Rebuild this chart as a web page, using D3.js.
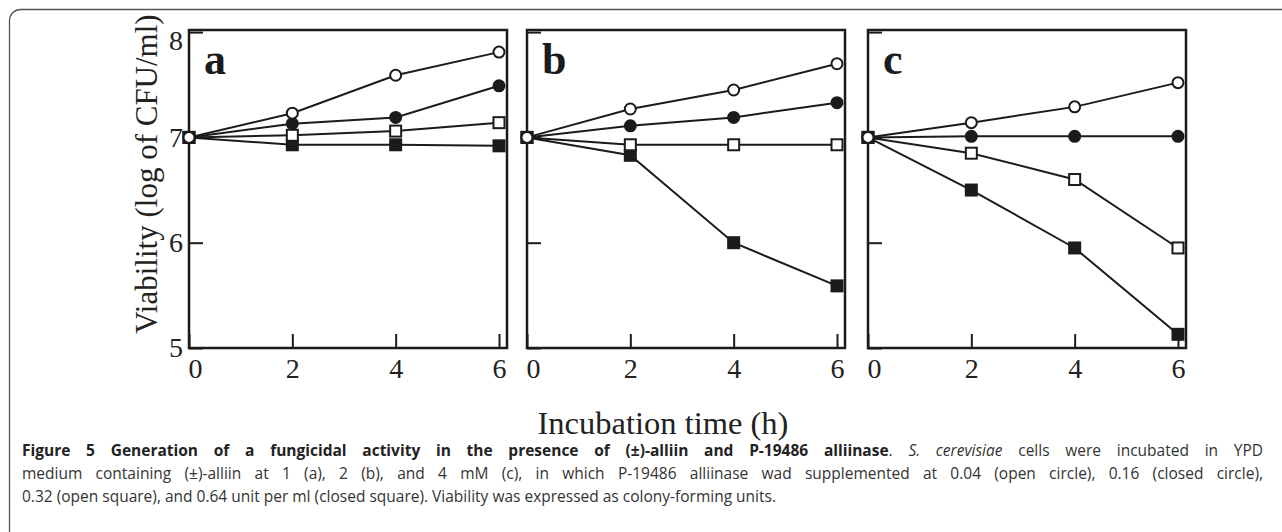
<!DOCTYPE html>
<html>
<head>
<meta charset="utf-8">
<script src="https://cdn.jsdelivr.net/npm/d3@7"></script>
<style>
  html,body{margin:0;padding:0;background:#fff;}
  svg{display:block;}
  .serif{font-family:"Liberation Serif","DejaVu Serif",serif;}
  .cap{font-family:"Open Sans","Noto Sans",sans-serif;font-size:15.5px;fill:#333;}
</style>
</head>
<body>
<svg id="fig" width="1282" height="532"></svg>
<script>
// ---- data ----
const times = [0, 2, 4, 6];
const panels = ['a', 'b', 'c'];
// 0.04 unit/ml, open circle
const openCircle   = [[7, 7.23, 7.59, 7.81], [7, 7.27, 7.45, 7.70], [7, 7.14, 7.29, 7.52]];
// 0.16 unit/ml, closed circle
const closedCircle = [[7, 7.13, 7.19, 7.49], [7, 7.11, 7.19, 7.33], [7, 7.01, 7.01, 7.01]];
// 0.32 unit/ml, open square
const openSquare   = [[7, 7.02, 7.06, 7.14], [7, 6.93, 6.93, 6.93], [7, 6.85, 6.60, 5.95]];
// 0.64 unit/ml, closed square
const closedSquare = [[7, 6.93, 6.93, 6.92], [7, 6.83, 6.00, 5.59], [7, 6.50, 5.95, 5.13]];
const yTicks = [5, 6, 7, 8];
const xTicks = [0, 2, 4, 6];

// ---- layout ----
const svg = d3.select('#fig');
const panelLeft = [189, 527, 868], panelW = 318, plotTop = 30, plotBottom = 348;
const y = d3.scaleLinear().domain([5, 8.02]).range([plotBottom, plotTop]);
const ink = '#1b1b1b';

// outer rounded box (runs off the right/bottom edges)
svg.append('rect').attr('x', 9.5).attr('y', 9.5).attr('width', 1300).attr('height', 560)
  .attr('rx', 11).attr('fill', 'none').attr('stroke', '#555').attr('stroke-width', 1.3);

// series drawn back to front so the open circle sits on top at t=0
const series = [
  {vals: closedSquare, shape: 'square', fill: ink},
  {vals: openSquare,   shape: 'square', fill: '#fff'},
  {vals: closedCircle, shape: 'circle', fill: ink},
  {vals: openCircle,   shape: 'circle', fill: '#fff'}
];

panels.forEach((name, pi) => {
  const x0 = panelLeft[pi];
  const x = d3.scaleLinear().domain([0, 6.155]).range([x0, x0 + panelW]);
  const g = svg.append('g');

  // axes with inward ticks
  const xa = g.append('g').attr('transform', `translate(0,${plotBottom})`)
    .call(d3.axisBottom(x).tickValues(xTicks).tickSize(-14).tickPadding(10).tickFormat(d3.format('d')));
  xa.select('.domain').remove();
  xa.selectAll('line').attr('stroke', ink).attr('stroke-width', 2);
  xa.selectAll('text').attr('class', 'serif').attr('font-size', 28).attr('fill', '#222')
    .attr('dx', d => d === 0 ? 6 : 0);

  const ya = g.append('g').attr('transform', `translate(${x0},0)`)
    .call(d3.axisLeft(y).tickValues(yTicks).tickSize(-14).tickPadding(6)
      .tickFormat(pi === 0 ? d3.format('d') : ''));
  ya.select('.domain').remove();
  ya.selectAll('line').attr('stroke', ink).attr('stroke-width', 2);
  ya.selectAll('text').attr('class', 'serif').attr('font-size', 28).attr('fill', '#222')
    .attr('dy', d => d === 8 ? '0.62em' : '0.32em');

  // frame
  g.append('rect').attr('x', x0).attr('y', plotTop).attr('width', panelW).attr('height', plotBottom - plotTop)
    .attr('fill', 'none').attr('stroke', ink).attr('stroke-width', 2.5);

  // panel letter
  g.append('text').attr('class', 'serif').attr('x', x0 + 15).attr('y', 74)
    .attr('font-size', 44).attr('font-weight', 'bold').attr('fill', ink).text(name);

  const line = d3.line().x((d, i) => x(times[i])).y(d => y(d));
  series.forEach(s => {
    g.append('path').datum(s.vals[pi]).attr('d', line)
      .attr('fill', 'none').attr('stroke', ink).attr('stroke-width', 2);
  });
  series.forEach(s => {
    const pts = s.vals[pi].map((v, i) => [x(times[i]), y(v)]);
    if (s.shape === 'circle') {
      g.append('g').selectAll('circle').data(pts).join('circle')
        .attr('cx', d => d[0]).attr('cy', d => d[1]).attr('r', 5.5)
        .attr('fill', s.fill).attr('stroke', ink).attr('stroke-width', 2);
    } else {
      g.append('g').selectAll('rect').data(pts).join('rect')
        .attr('x', d => d[0] - 5.5).attr('y', d => d[1] - 5.5).attr('width', 11).attr('height', 11)
        .attr('fill', s.fill).attr('stroke', ink).attr('stroke-width', 2);
    }
  });
});

// axis titles
svg.append('text').attr('class', 'serif').attr('transform', 'translate(157,174) rotate(-90)')
  .attr('text-anchor', 'middle').attr('font-size', 31).attr('fill', '#222')
  .text('Viability (log of CFU/ml)');
svg.append('text').attr('class', 'serif').attr('x', 663).attr('y', 434)
  .attr('text-anchor', 'middle').attr('font-size', 32.5).attr('fill', '#222')
  .text('Incubation time (h)');

// caption — justified like the journal layout, last line ragged
const capLines = [
  [{t: 'Figure 5 Generation of a fungicidal activity in the presence of (±)-alliin and P-19486 alliinase', b: true},
   {t: '. '}, {t: 'S. cerevisiae', i: true}, {t: ' cells were incubated in YPD'}],
  [{t: 'medium containing (±)-alliin at 1 (a), 2 (b), and 4 mM (c), in which P-19486 alliinase wad supplemented at 0.04 (open circle), 0.16 (closed circle),'}],
  [{t: '0.32 (open square), and 0.64 unit per ml (closed square). Viability was expressed as colony-forming units.'}]
];
const capLeft = 22, capRight = 1263;
capLines.forEach((parts, li) => {
  const t = svg.append('text').attr('class', 'cap').attr('x', capLeft).attr('y', 456 + li * 23);
  parts.forEach(p => {
    t.append('tspan').text(p.t)
      .attr('font-weight', p.b ? 'bold' : null)
      .attr('font-style', p.i ? 'italic' : null)
      .attr('fill', p.b ? '#222' : null);
  });
  if (li < capLines.length - 1) {
    const natural = t.node().getComputedTextLength();
    const spaces = parts.map(p => p.t).join('').split(' ').length - 1;
    t.attr('word-spacing', (capRight - capLeft - natural) / spaces);
  }
});
</script>
</body>
</html>
